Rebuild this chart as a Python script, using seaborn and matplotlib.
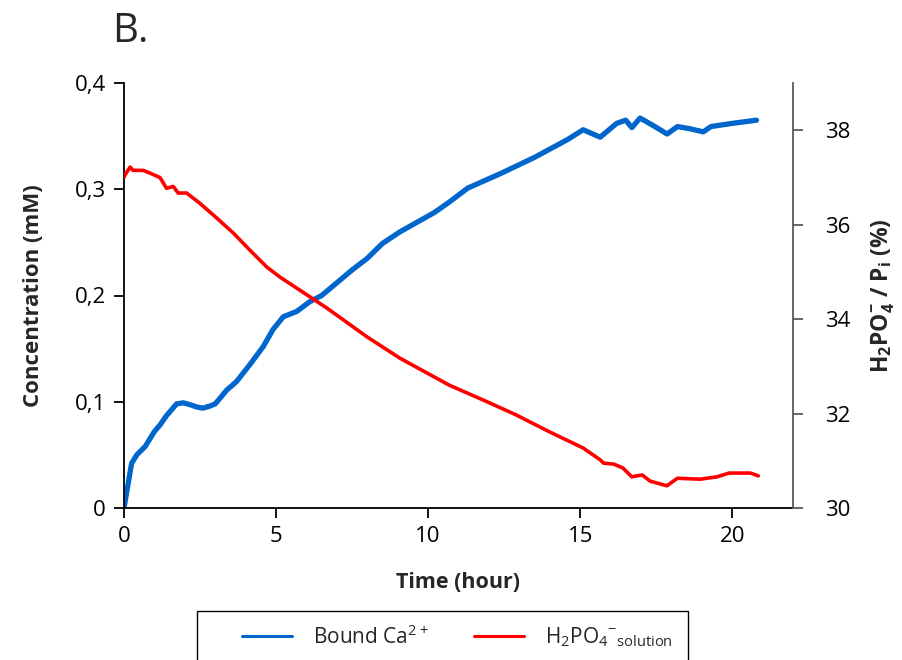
import numpy as np
import pandas as pd
import matplotlib
matplotlib.use("Agg")
import matplotlib.pyplot as plt
import seaborn as sns
from matplotlib.ticker import FuncFormatter
from matplotlib.patches import Rectangle

# bound calcium (mM), left axis
ca_time = [0, 0.25, 0.42, 0.7, 1.0, 1.18, 1.4, 1.73, 1.95, 2.2, 2.4, 2.6, 2.83, 3.0,
           3.38, 3.7, 4.14, 4.58, 4.9, 5.24, 5.68, 6.1, 6.5, 7.0, 7.5, 8.0, 8.5, 9.08,
           10.2, 10.7, 11.3, 12.4, 13.5, 14.6, 15.1, 15.66, 16.2, 16.5, 16.7, 16.97,
           17.4, 17.86, 18.2, 18.6, 19.05, 19.3, 20.0, 20.8]
ca_conc = [0, 0.042, 0.05, 0.058, 0.072, 0.078, 0.087, 0.098, 0.099, 0.097, 0.095, 0.094,
           0.096, 0.098, 0.111, 0.119, 0.135, 0.152, 0.168, 0.18, 0.185, 0.194, 0.200,
           0.212, 0.224, 0.235, 0.249, 0.26, 0.278, 0.288, 0.301, 0.315, 0.330, 0.347,
           0.356, 0.349, 0.362, 0.365, 0.358, 0.367, 0.360, 0.352, 0.359, 0.357, 0.354,
           0.359, 0.362, 0.365]

# H2PO4- fraction of Pi (%), right axis
ph_time = [0.0, 0.03, 0.2, 0.3, 0.63, 0.86, 1.18, 1.4, 1.62, 1.78, 2.06, 2.5, 3.05, 3.6,
           4.14, 4.7, 5.13, 5.79, 6.68, 8.0, 9.08, 10.7, 11.8, 12.9, 14.0, 15.1, 15.66,
           15.77, 16.1, 16.4, 16.7, 17.04, 17.3, 17.85, 18.2, 18.95, 19.5, 19.9, 20.6, 20.86]
ph_pct = [37.0, 37.05, 37.22, 37.15, 37.15, 37.09, 37.0, 36.77, 36.81, 36.67, 36.67,
          36.45, 36.14, 35.82, 35.46, 35.1, 34.89, 34.61, 34.23, 33.62, 33.17, 32.6,
          32.29, 31.97, 31.61, 31.27, 31.02, 30.95, 30.93, 30.85, 30.66, 30.7, 30.57,
          30.47, 30.63, 30.61, 30.66, 30.74, 30.74, 30.68]

df_ca = pd.DataFrame({"time": ca_time, "conc": ca_conc})
df_ph = pd.DataFrame({"time": ph_time, "pct": ph_pct})

sns.set_style("white")
plt.rcParams["font.family"] = ["Open Sans", "DejaVu Sans"]
plt.rcParams["mathtext.fontset"] = "custom"
plt.rcParams["mathtext.rm"] = "Open Sans"
plt.rcParams["mathtext.bf"] = "Open Sans:bold"

blue = "#0066CC"
red = "#FF0000"

fig = plt.figure(figsize=(9.03, 6.6), dpi=100)
ax = fig.add_axes([124 / 903, 1 - 508 / 660, (793 - 124) / 903, (508 - 83) / 660])
ax2 = ax.twinx()

sns.lineplot(data=df_ca, x="time", y="conc", ax=ax, color=blue, lw=3.8, label="_a")
sns.lineplot(data=df_ph, x="time", y="pct", ax=ax2, color=red, lw=2.6, label="_b")
if ax.get_legend():
    ax.get_legend().remove()
if ax2.get_legend():
    ax2.get_legend().remove()

ax.set_xlim(0, 22)
ax.set_ylim(0, 0.4)
ax2.set_ylim(30, 39)
ax.set_xticks([0, 5, 10, 15, 20])
ax.set_yticks([0, 0.1, 0.2, 0.3, 0.4])
ax2.set_yticks([30, 32, 34, 36, 38])
ax.yaxis.set_major_formatter(FuncFormatter(lambda v, p: "0" if v == 0 else f"{v:.1f}".replace(".", ",")))

for a in (ax, ax2):
    a.spines["top"].set_visible(False)
ax.spines["right"].set_visible(False)
ax2.spines["left"].set_visible(False)
ax2.spines["bottom"].set_visible(False)
ax.spines["left"].set_color("black")
ax.spines["bottom"].set_color("black")
ax2.spines["right"].set_color("#595959")
for s in ("left", "bottom"):
    ax.spines[s].set_linewidth(1.3)
ax2.spines["right"].set_linewidth(1.3)

ax.tick_params(axis="both", direction="out", length=7, width=1.3, labelsize=16,
               left=True, bottom=True, colors="black", pad=6)
ax2.tick_params(axis="y", direction="out", length=7, width=1.3, labelsize=16,
                right=True, color="#595959", labelcolor="black", pad=16)

ax.set_xlabel("Time (hour)", fontsize=15.5, fontweight="bold", labelpad=18)
ax.set_ylabel("Concentration (mM)", fontsize=16, fontweight="bold", labelpad=22)
ax2.set_ylabel(r"H$_\mathbf{2}$PO$_\mathbf{4}^\mathbf{-}$ / P$_\mathbf{i}$ (%)",
               fontsize=16.5, fontweight="bold", labelpad=14)

fig.text(112 / 903, 1 - 12 / 660, "B.", fontsize=29, va="top", ha="left")

# legend frame running off the bottom edge
fig.patches.append(Rectangle((197 / 903, -0.1), (688 - 197) / 903, 0.1 + (660 - 611) / 660,
                             transform=fig.transFigure, fill=False, edgecolor="black",
                             lw=1.0))
h1 = ax.get_lines()[0]
h2 = ax2.get_lines()[0]
fig.legend([h1, h2], [r"Bound Ca$^{2+}$", r"H$_2$PO$_4$$^{-}$$_{\rm solution}$"],
           loc="center left", bbox_to_anchor=(242 / 903, 1 - 637 / 660), ncol=2,
           frameon=False, fontsize=15, handlelength=2.4, handletextpad=1.0,
           columnspacing=2.2, borderpad=0, borderaxespad=0)
for ln in fig.legends[0].get_lines():
    ln.set_linewidth(2.2)

fig.savefig("out.png", dpi=100)
